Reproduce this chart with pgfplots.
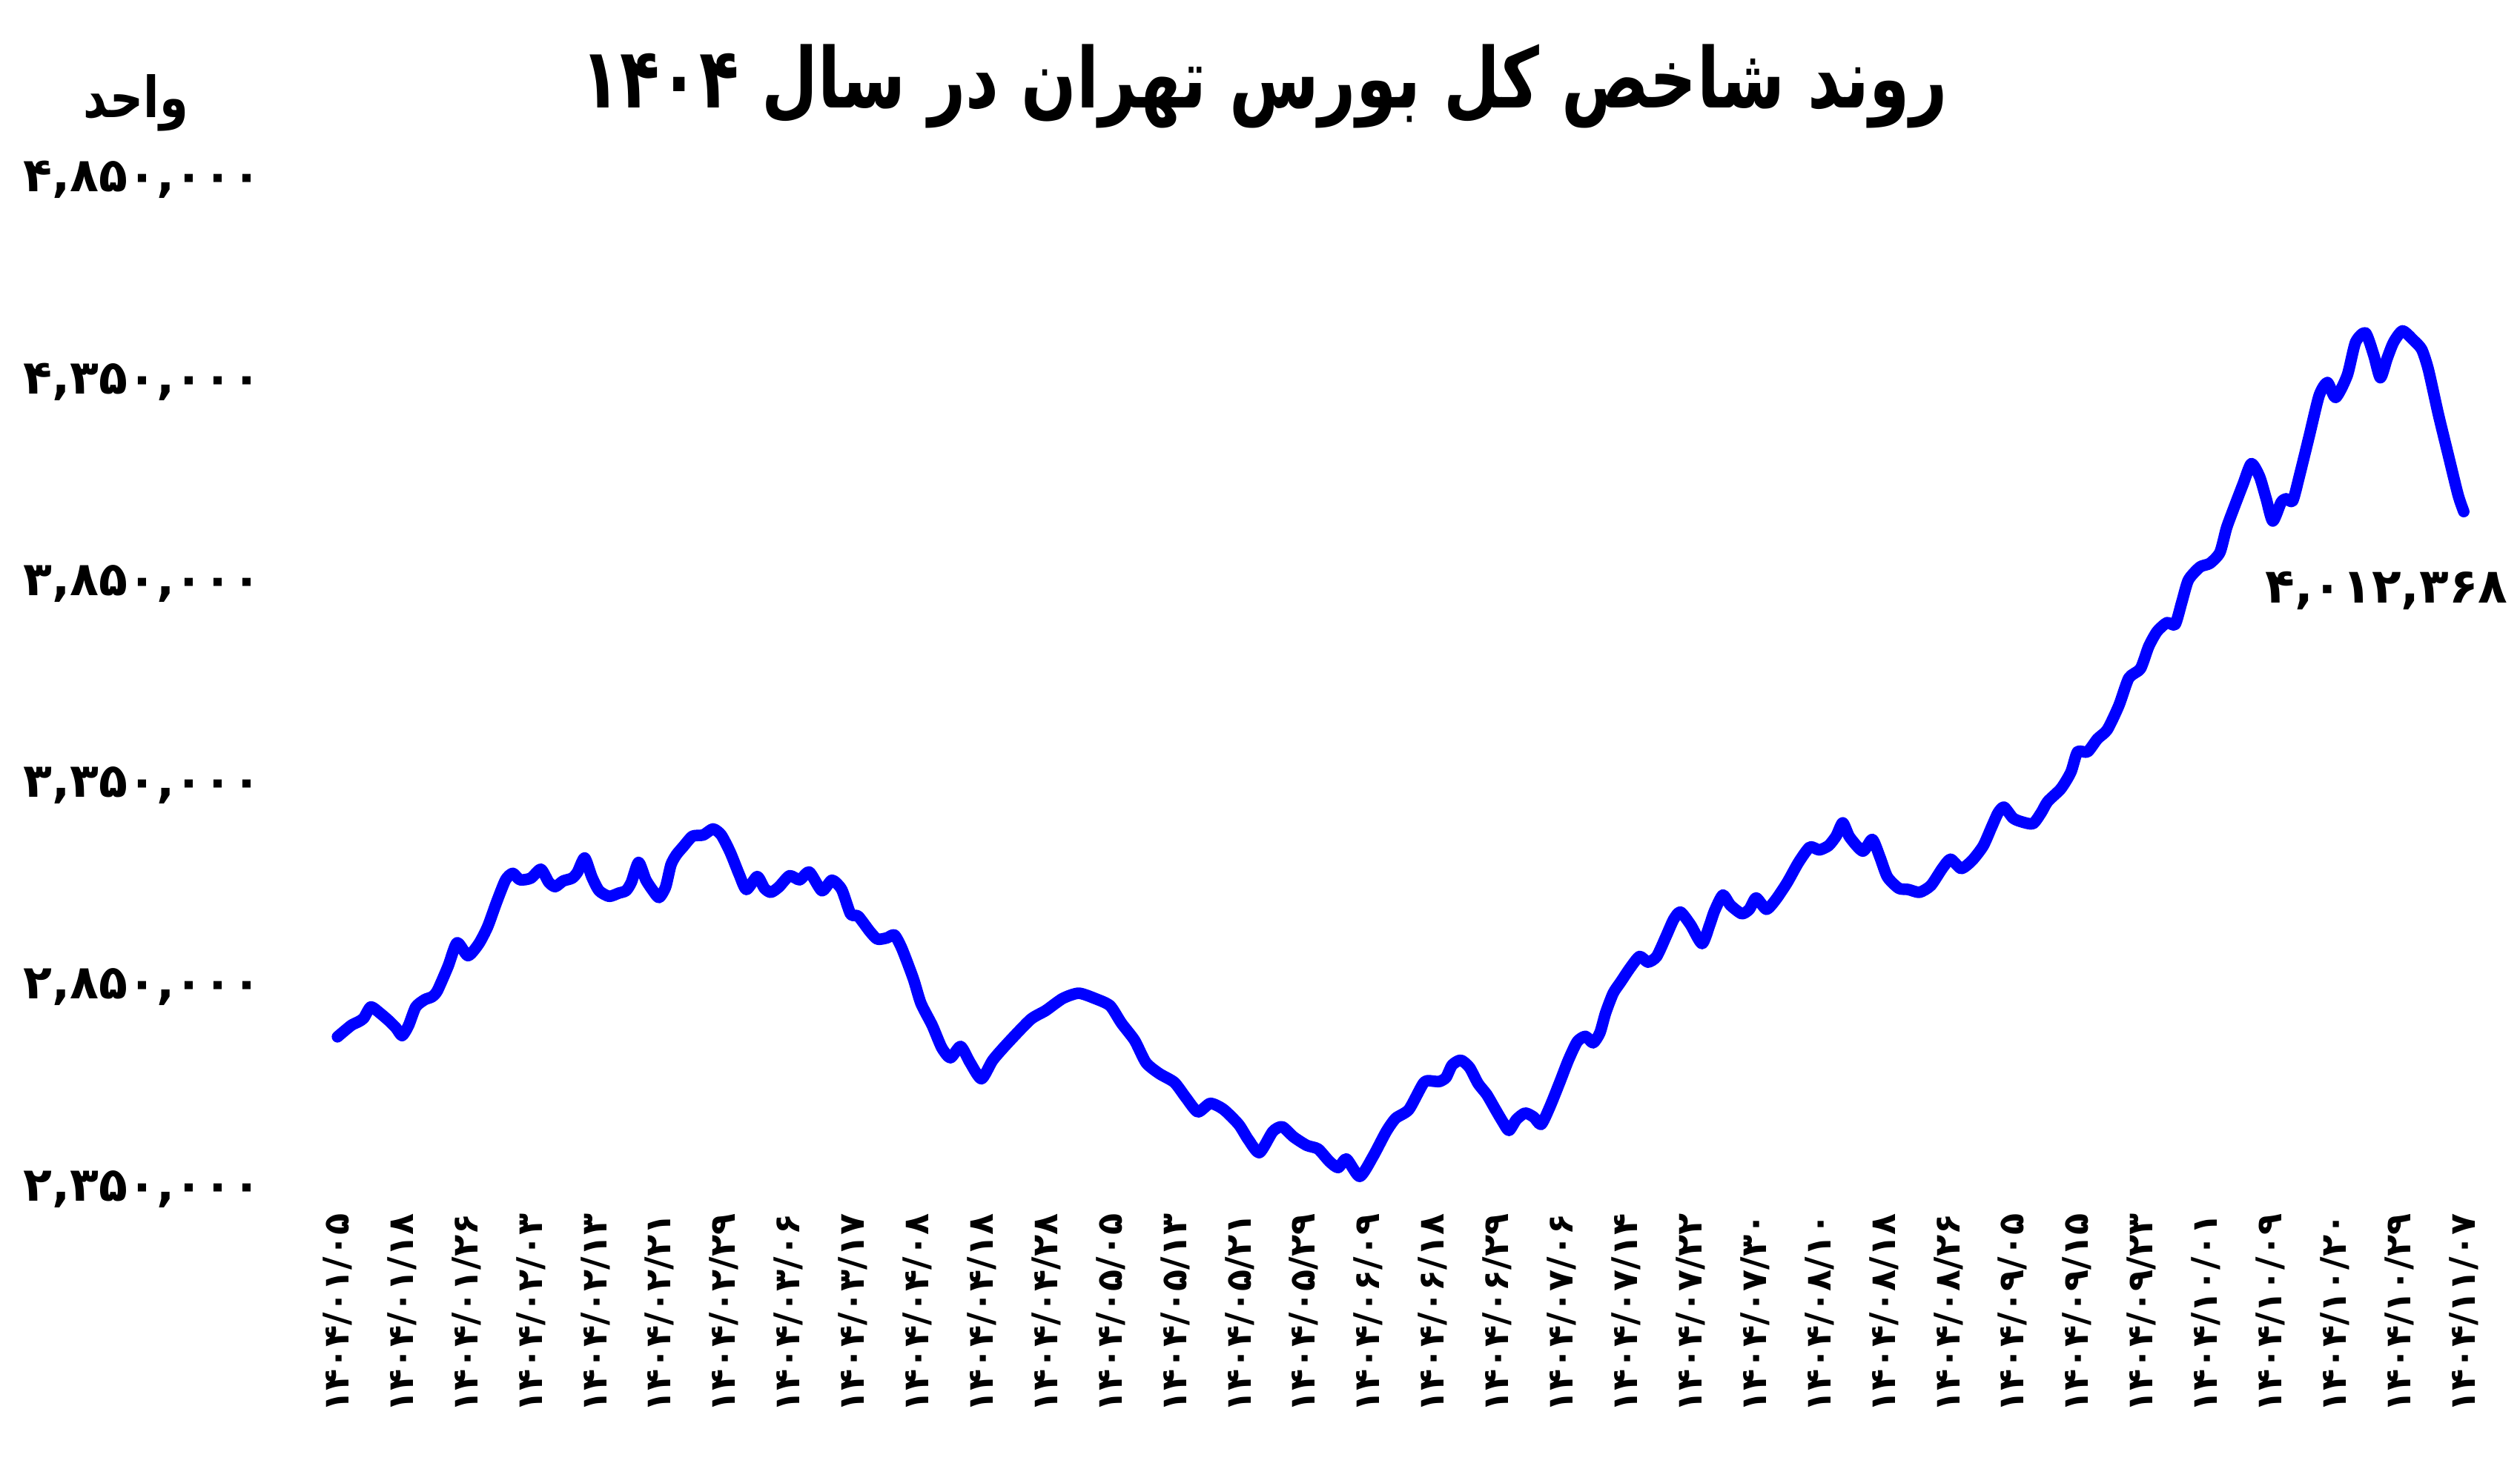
\documentclass[border=0pt]{standalone}
\usepackage{graphicx}
\usepackage{pgfplots}
\pgfplotsset{compat=1.18}
\usepackage{fontspec}
\setmainfont{DejaVu Sans}
\newfontfamily\fa[Script=Arabic]{DejaVu Sans}
\TeXXeTstate=1
\begin{document}
\begin{tikzpicture}
\begin{axis}[
  at={(0,0)}, anchor=south west, scale only axis,
  width=661.5pt, height=314pt,
  xmin=0, xmax=33, ymin=2350000, ymax=4850000,
  clip=false,
  scaled y ticks=false,
  axis line style={draw=none},
  major tick length=0pt,
  xtick={0,1,...,33},
  xticklabels={۱۴۰۴/۰۱/۰۵,۱۴۰۴/۰۱/۱۸,۱۴۰۴/۰۱/۲۶,۱۴۰۴/۰۲/۰۳,۱۴۰۴/۰۲/۱۳,۱۴۰۴/۰۲/۲۱,۱۴۰۴/۰۲/۲۹,۱۴۰۴/۰۳/۰۶,۱۴۰۴/۰۳/۱۷,۱۴۰۴/۰۴/۰۸,۱۴۰۴/۰۴/۱۸,۱۴۰۴/۰۴/۲۸,۱۴۰۴/۰۵/۰۵,۱۴۰۴/۰۵/۱۳,۱۴۰۴/۰۵/۲۱,۱۴۰۴/۰۵/۲۹,۱۴۰۴/۰۶/۰۹,۱۴۰۴/۰۶/۱۸,۱۴۰۴/۰۶/۲۹,۱۴۰۴/۰۷/۰۶,۱۴۰۴/۰۷/۱۴,۱۴۰۴/۰۷/۲۲,۱۴۰۴/۰۷/۳۰,۱۴۰۴/۰۸/۱۰,۱۴۰۴/۰۸/۱۸,۱۴۰۴/۰۸/۲۶,۱۴۰۴/۰۹/۰۵,۱۴۰۴/۰۹/۱۵,۱۴۰۴/۰۹/۲۳,۱۴۰۴/۱۰/۰۱,۱۴۰۴/۱۰/۰۹,۱۴۰۴/۱۰/۲۰,۱۴۰۴/۱۰/۲۹,۱۴۰۴/۱۱/۰۷},
  ytick={2350000,2850000,3350000,3850000,4350000,4850000},
  yticklabels={{۲,۳۵۰,۰۰۰},{۲,۸۵۰,۰۰۰},{۳,۳۵۰,۰۰۰},{۳,۸۵۰,۰۰۰},{۴,۳۵۰,۰۰۰},{۴,۸۵۰,۰۰۰}},
  xticklabel style={yshift=-9.5pt, rotate=90, anchor=east, inner sep=0pt, font=\fa\bfseries\fontsize{11}{11}\selectfont},
  yticklabel style={anchor=east, inner sep=0pt, xshift=-23.5pt, yshift=-2pt, font=\fa\bfseries\fontsize{14.7}{14.7}\selectfont},
]
\addplot[color={rgb,255:red,0;green,0;blue,255}, line width=3.6pt, smooth, tension=0.4, line join=round, line cap=round] coordinates {
(0.000,2711000)(0.211,2739000)(0.322,2748000)(0.406,2757000)(0.517,2785000)(0.657,2770000)(0.796,2751000)(0.908,2733000)(1.003,2714000)(1.103,2739000)
(1.215,2785000)(1.354,2803000)(1.466,2810000)(1.550,2825000)(1.717,2886000)(1.856,2944000)(2.024,2912000)(2.191,2941000)(2.331,2984000)(2.470,3045000)
(2.609,3100000)(2.721,3116000)(2.832,3100000)(3.000,3104000)(3.156,3126000)(3.279,3094000)(3.379,3083000)(3.502,3097000)(3.641,3104000)(3.725,3119000)
(3.836,3154000)(3.948,3107000)(4.060,3073000)(4.216,3059000)(4.366,3067000)(4.478,3073000)(4.561,3094000)(4.673,3143000)(4.785,3100000)(4.896,3073000)
(4.991,3056000)(5.092,3082000)(5.175,3137000)(5.259,3162000)(5.370,3183000)(5.510,3208000)(5.677,3211000)(5.828,3226000)(5.956,3211000)(6.096,3168000)
(6.235,3113000)(6.347,3076000)(6.514,3108000)(6.626,3079000)(6.726,3069000)(6.849,3082000)(7.016,3110000)(7.172,3100000)(7.323,3119000)(7.518,3073000)
(7.674,3099000)(7.825,3076000)(7.964,3015000)(8.080,3010000)(8.262,2972000)(8.380,2953000)(8.526,2956000)(8.644,2963000)(8.761,2929000)(8.937,2855000)
(9.055,2794000)(9.231,2739000)(9.378,2684000)(9.513,2659000)(9.671,2687000)(9.818,2647000)(9.994,2607000)(10.170,2653000)(10.405,2696000)(10.757,2754000)
(10.992,2776000)(11.256,2806000)(11.503,2819000)(11.755,2806000)(11.990,2788000)(12.166,2745000)(12.372,2702000)(12.548,2647000)(12.753,2620000)(12.988,2598000)
(13.164,2561000)(13.352,2525000)(13.546,2546000)(13.752,2531000)(13.986,2494000)(14.133,2457000)(14.309,2424000)(14.515,2476000)(14.662,2488000)(14.838,2463000)
(15.043,2442000)(15.219,2433000)(15.395,2402000)(15.531,2387000)(15.660,2408000)(15.865,2365000)(16.070,2414000)(16.276,2476000)(16.423,2509000)(16.629,2531000)
(16.863,2598000)(17.010,2601000)(17.100,2600000)(17.204,2610000)(17.300,2641000)(17.434,2653000)(17.569,2635000)(17.703,2595000)(17.837,2568000)(17.971,2531000)
(18.086,2500000)(18.182,2479000)(18.297,2506000)(18.432,2522000)(18.566,2512000)(18.681,2494000)(18.815,2537000)(18.969,2598000)(19.103,2653000)(19.241,2699000)
(19.370,2712000)(19.487,2696000)(19.593,2721000)(19.681,2770000)(19.799,2819000)(19.916,2847000)(20.063,2882000)(20.209,2910000)(20.339,2896000)(20.474,2910000)
(20.620,2960000)(20.738,3002000)(20.843,3020000)(21.002,2988000)(21.178,2942000)(21.296,2988000)(21.372,3023000)(21.501,3062000)(21.619,3037000)(21.795,3016000)
(21.912,3027000)(22.018,3055000)(22.176,3027000)(22.323,3051000)(22.499,3093000)(22.675,3143000)(22.851,3181000)(22.998,3174000)(23.145,3185000)(23.262,3209000)
(23.362,3241000)(23.468,3206000)(23.673,3171000)(23.820,3200000)(23.937,3157000)(24.055,3107000)(24.231,3079000)(24.378,3076000)(24.554,3069000)(24.730,3086000)
(24.906,3128000)(25.035,3151000)(25.200,3128000)(25.370,3148000)(25.542,3184000)(25.670,3230000)(25.773,3266000)(25.865,3280000)(26.004,3253000)(26.132,3244000)
(26.312,3239000)(26.441,3266000)(26.543,3294000)(26.749,3326000)(26.903,3367000)(27.006,3417000)(27.160,3417000)(27.314,3449000)(27.468,3472000)(27.648,3532000)
(27.802,3600000)(27.982,3623000)(28.110,3678000)(28.239,3715000)(28.393,3737000)(28.521,3733000)(28.624,3788000)(28.727,3843000)(28.906,3875000)(29.060,3884000)
(29.215,3911000)(29.317,3971000)(29.420,4016000)(29.574,4080000)(29.703,4131000)(29.831,4099000)(29.934,4044000)(30.036,3989000)(30.165,4035000)(30.242,4044000)
(30.345,4039000)(30.447,4099000)(30.601,4199000)(30.756,4300000)(30.884,4332000)(31.012,4295000)(31.192,4350000)(31.321,4432000)(31.475,4455000)(31.603,4400000)
(31.706,4344000)(31.809,4391000)(31.911,4432000)(32.050,4460000)(32.220,4437000)(32.348,4414000)(32.451,4364000)(32.605,4254000)(32.759,4153000)(32.913,4053000)
(33.000,4012368)
};
\end{axis}
\node[anchor=base, inner sep=0pt] at (288.25pt,334.5pt) {\scalebox{0.776}[1]{\fa\bfseries\fontsize{26}{26}\selectfont\beginR روند شاخص کل بورس تهران در سال ۱۴۰۴\endR}};
\node[anchor=base, inner sep=0pt] at (-62.75pt,331.5pt) {\scalebox{0.9}[1.1]{\fa\bfseries\fontsize{16}{16}\selectfont\beginR واحد\endR}};
\node[anchor=center, inner sep=0pt] at (637.5pt,184.25pt) {\fa\bfseries\fontsize{15}{15}\selectfont ۴,۰۱۲,۳۶۸};
\path[use as bounding box] (-105pt,-89pt) rectangle (679pt,368pt);
\end{tikzpicture}
\end{document}
